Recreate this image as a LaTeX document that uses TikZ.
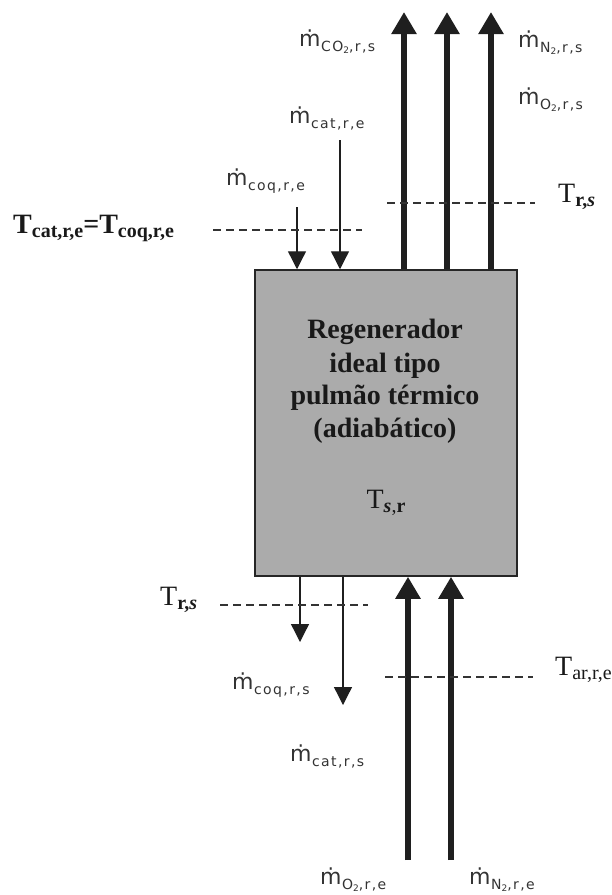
\documentclass[tikz,border=0pt]{standalone}
\usepackage{fontspec}
\setmainfont{Liberation Serif}
\newfontfamily\flowfont{DejaVu Sans}
\newfontfamily\flowsubfont{DejaVu Sans}[LetterSpace=10]
\usetikzlibrary{arrows.meta}

% mass-flow label: dotted m with a lowered subscript
\newcommand\mflux[1]{{\flowfont\fontsize{22}{22}\selectfont ṁ\kern0.5pt\raisebox{-5pt}{\flowsubfont\fontsize{14}{14}\selectfont #1}}}
\newcommand\subtwo{\raisebox{-2.5pt}{\fontsize{9}{9}\selectfont 2}}
% temperature label: large T with a lowered subscript
\newcommand\tsub[1]{\raisebox{-4pt}{\fontsize{20}{20}\selectfont #1}}

\tikzset{
  regbox/.style={draw=black!85, line width=1.5pt, fill=black!33,
    minimum width=262pt, minimum height=306pt, inner sep=0pt},
  bigflow/.style={line width=5.5pt, draw=black!88,
    -{Triangle[width=24pt,length=22pt]}},
  smallflow/.style={line width=1.3pt, draw=black!88,
    -{Triangle[width=18pt,length=18pt]}},
  tline/.style={dashed, dash pattern=on 8pt off 5pt, line width=1.1pt, draw=black!80},
  flowlbl/.style={anchor=base west, inner sep=0pt, text=black!80},
  templbl/.style={anchor=base west, inner sep=0pt, text=black!90,
    font=\fontsize{28}{28}\selectfont},
  boxtext/.style={anchor=base, inner sep=0pt, text=black!90,
    font=\bfseries\fontsize{28}{28}\selectfont},
}

\begin{document}
\begin{tikzpicture}[x=1pt,y=-1pt]
  \useasboundingbox (0,0) rectangle (612,895);

  % regenerator vessel
  \node[regbox] (reg) at (386,423) {};
  \node[boxtext] (l1) at (385,338) {Regenerador};
  \node[boxtext] (l2) at (385,372) {ideal tipo};
  \node[boxtext] (l3) at (385,404) {pulmão térmico};
  \node[boxtext] (l4) at (385,437) {(adiabático)};
  \node[boxtext, font=\fontsize{28}{28}\selectfont] (tsr) at (386,508)
    {T\tsub{\textbf{\textit{s}},\textbf{r}}};

  % flue gas outlets (top)
  \coordinate (co2tip) at (404,12);
  \coordinate (o2tip)  at (447,12);
  \coordinate (n2tip)  at (491,12);
  \draw[bigflow] (reg.north -| co2tip) -- (co2tip);
  \draw[bigflow] (reg.north -| o2tip)  -- (o2tip);
  \draw[bigflow] (reg.north -| n2tip)  -- (n2tip);

  % coke and catalyst inlets (top)
  \coordinate (coqin) at (297,207);
  \coordinate (catin) at (340,140);
  \draw[smallflow] (coqin) -- (reg.north -| coqin);
  \draw[smallflow] (catin) -- (reg.north -| catin);

  % coke and catalyst outlets (bottom)
  \coordinate (coqout) at (300,642);
  \coordinate (catout) at (343,705);
  \draw[smallflow] (reg.south -| coqout) -- (coqout);
  \draw[smallflow] (reg.south -| catout) -- (catout);

  % air inlets (bottom)
  \coordinate (o2in) at (408,860);
  \coordinate (n2in) at (451,860);
  \draw[bigflow] (o2in) -- (reg.south -| o2in);
  \draw[bigflow] (n2in) -- (reg.south -| n2in);

  % temperature reference lines
  \draw[tline] (213,230) -- (362,230);
  \draw[tline] (387,203) -- (535,203);
  \draw[tline] (220,605) -- (368,605);
  \draw[tline] (385,677) -- (533,677);

  % mass flow labels
  \node[flowlbl] (mco2s) at (299,46)  {\mflux{CO\subtwo,r,s}};
  \node[flowlbl] (mn2s)  at (518,47)  {\mflux{N\subtwo,r,s}};
  \node[flowlbl] (mo2s)  at (518,104) {\mflux{O\subtwo,r,s}};
  \node[flowlbl] (mcate) at (289,123) {\mflux{cat,r,e}};
  \node[flowlbl] (mcoqe) at (226,185) {\mflux{coq,r,e}};
  \node[flowlbl] (mcoqs) at (232,689) {\mflux{coq,r,s}};
  \node[flowlbl] (mcats) at (290,761) {\mflux{cat,r,s}};
  \node[flowlbl] (mo2e)  at (320,884) {\mflux{O\subtwo,r,e}};
  \node[flowlbl] (mn2e)  at (469,884) {\mflux{N\subtwo,r,e}};

  % temperature labels
  \node[templbl] (tcate) at (13,233)
    {\textbf{T}\tsub{\textbf{cat,r,e}}\textbf{=T}\tsub{\textbf{coq,r,e}}};
  \node[templbl] (trs1) at (558,202) {T\tsub{\textbf{r,\textit{s}}}};
  \node[templbl] (trs2) at (160,605) {T\tsub{\textbf{r,\textit{s}}}};
  \node[templbl] (tare) at (555,675) {T\tsub{ar,r,e}};
\end{tikzpicture}
\end{document}
